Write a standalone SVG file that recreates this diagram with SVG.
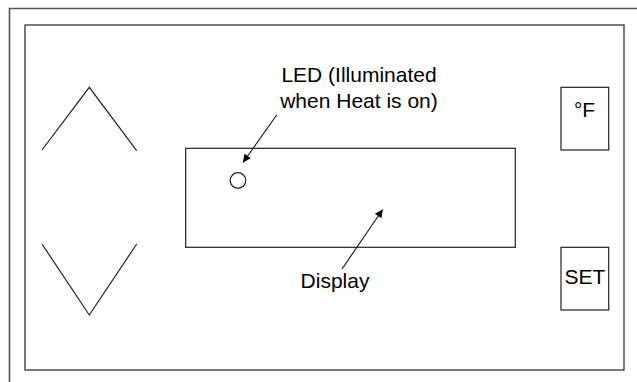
<svg xmlns="http://www.w3.org/2000/svg" width="637" height="382" viewBox="0 0 637 382">
<style>
.ln{fill:none;stroke:#222;stroke-width:1.2}
.fr{fill:none;stroke:#555;stroke-width:1.6}
.t{font-family:"Liberation Sans",Arial,sans-serif;font-size:21px;fill:#000;text-anchor:middle}
</style>
<defs>
<marker id="ah" viewBox="0 0 10 10" refX="10" refY="5" markerWidth="11" markerHeight="8" markerUnits="userSpaceOnUse" orient="auto">
<path d="M0,0 L10,5 L0,10 Z" fill="#000"/>
</marker>
</defs>
<rect width="637" height="382" fill="#fff"/>
<g id="frame">
<polyline class="fr" points="9.5,382 9.5,8.5 637,8.5"/>
<rect class="ln" x="25" y="25" width="599" height="345"/>
</g>
<g id="up-button">
<polyline class="ln" points="42,150 89.3,87.3 136.7,150.7"/>
</g>
<g id="down-button">
<polyline class="ln" points="42,244 89.3,315 136.7,244"/>
</g>
<g id="display">
<rect class="ln" x="185.7" y="148.3" width="329.6" height="99"/>
</g>
<g id="led">
<circle class="ln" cx="238" cy="180.5" r="7.8"/>
</g>
<g id="f-button">
<rect class="ln" x="561" y="87.3" width="47.7" height="62.7"/>
<text class="t" x="584.5" y="117">°F</text>
</g>
<g id="set-button">
<rect class="ln" x="561" y="247.3" width="47.7" height="62.7"/>
<text class="t" x="585" y="284">SET</text>
</g>
<g id="led-label">
<text class="t" x="359" y="81.5">LED (Illuminated</text>
<text class="t" x="359" y="107.5">when Heat is on)</text>
</g>
<g id="display-label">
<text class="t" x="335" y="288.3">Display</text>
</g>
<g id="connectors">
<line class="ln" x1="276.7" y1="115" x2="243" y2="162.5" marker-end="url(#ah)"/>
<line class="ln" x1="342" y1="269" x2="382.7" y2="209.5" marker-end="url(#ah)"/>
</g>
</svg>
